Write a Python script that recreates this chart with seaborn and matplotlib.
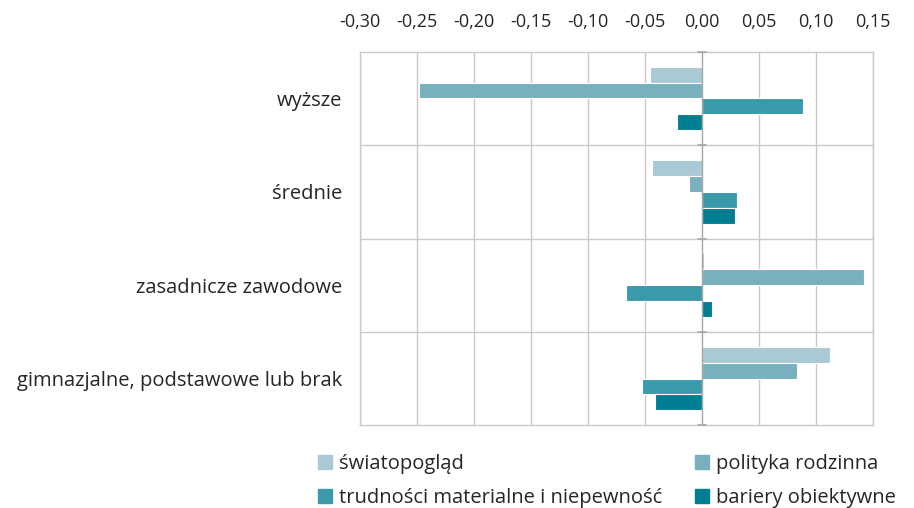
import pandas as pd
import matplotlib.pyplot as plt
import matplotlib.ticker as mticker
import seaborn as sns

# categories and series
categories = ["wyższe", "średnie", "zasadnicze zawodowe", "gimnazjalne, podstawowe lub brak"]
series = ["światopogląd", "polityka rodzinna", "trudności materialne i niepewność", "bariery obiektywne"]

swiatopoglad = [-0.046, -0.044, 0.002, 0.112]
polityka = [-0.248, -0.011, 0.142, 0.083]
trudnosci = [0.089, 0.031, -0.067, -0.053]
bariery = [-0.022, 0.029, 0.009, -0.041]

x_ticks = [-0.30, -0.25, -0.20, -0.15, -0.10, -0.05, 0.00, 0.05, 0.10, 0.15]
palette = ["#A9C9D4", "#78B0BD", "#3A9AAA", "#007E91"]

rows = []
for name, vals in zip(series, [swiatopoglad, polityka, trudnosci, bariery]):
    for cat, v in zip(categories, vals):
        rows.append({"kategoria": cat, "seria": name, "wartosc": v})
df = pd.DataFrame(rows)

sns.set_theme(style="white")
plt.rcParams['font.family'] = ['Open Sans', 'DejaVu Sans']

fig = plt.figure(figsize=(9.14, 5.08), dpi=100)
ax = fig.add_axes([0.394, 0.163, 0.561, 0.735])

sns.barplot(data=df, y="kategoria", x="wartosc", hue="seria", order=categories,
            hue_order=series, palette=palette, saturation=1, orient="h", width=0.68,
            edgecolor="white", linewidth=0.8, ax=ax, legend=False)
for p in ax.patches:
    p.set_clip_on(False)

ax.set_xlim(-0.30, 0.15)
ax.set_ylim(3.5, -0.5)
ax.set_xticks(x_ticks)
ax.xaxis.tick_top()
ax.xaxis.set_major_formatter(mticker.FuncFormatter(lambda v, _: f"{v:.2f}".replace(".", ",")))
ax.tick_params(axis="x", length=0, pad=15, labelsize=13, colors="#262626")
ax.tick_params(axis="y", length=0, pad=13, labelsize=14.5, colors="#262626")
ax.set_xlabel("")
ax.set_ylabel("")

grid_c = "#C8C8C8"
for t in x_ticks:
    if t != 0:
        ax.axvline(t, color=grid_c, lw=1, zorder=0)
for b in [0.5, 1.5, 2.5]:
    ax.axhline(b, color=grid_c, lw=1, zorder=0)
ax.axvline(0, color="#A6A6A6", lw=1, zorder=3)
# small cross ticks on the zero axis at category borders
for b in [-0.5, 0.5, 1.5, 2.5, 3.5]:
    ax.plot([-0.0035, 0.0035], [b, b], color="#A6A6A6", lw=1.2, zorder=3, clip_on=False)
for s in ax.spines.values():
    s.set_color(grid_c)
    s.set_linewidth(1)

# legend is filled column by column, so order handles to read row-wise
order = [0, 2, 1, 3]
handles = [plt.Rectangle((0, 0), 1, 1, color=palette[i]) for i in order]
labels = [series[i] for i in order]
fig.legend(handles, labels, loc="upper left", bbox_to_anchor=(0.348, 0.106), ncol=2,
           frameon=False, fontsize=14.5, handlelength=0.7, handleheight=0.7,
           handletextpad=0.35, columnspacing=1.6, labelspacing=0.7,
           borderpad=0, borderaxespad=0, labelcolor="#262626")

fig.savefig("out.png", dpi=100)
